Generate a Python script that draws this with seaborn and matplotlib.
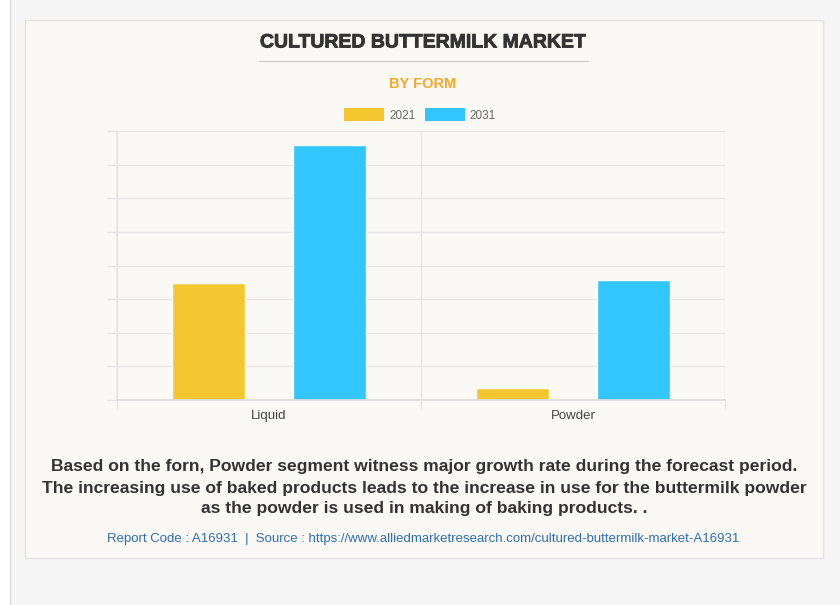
import seaborn as sns
import pandas as pd
import matplotlib.pyplot as plt
import matplotlib.patheffects as pe
from matplotlib.patches import Rectangle, Patch
from matplotlib.lines import Line2D

# values (arbitrary units, y axis has no labels)
forms = ["Liquid", "Powder"]
years = ["2021", "2031"]
val_2021 = [174, 18]
val_2031 = [379.5, 178.5]
colors = ["#F4C731", "#33C5FE"]

df = pd.DataFrame({
    "form": forms * 2,
    "year": [years[0]] * 2 + [years[1]] * 2,
    "value": val_2021 + val_2031,
})

sns.set_theme(style="white")
plt.rcParams["font.family"] = ["Liberation Sans", "DejaVu Sans"]

W, H = 840, 605
fig = plt.figure(figsize=(W / 100, H / 100), dpi=100)
fig.patch.set_facecolor("#f5f5f5")

def fx(px):
    return px / W

def fy(py):
    return 1 - py / H

# page strip on the left and the card
fig.add_artist(Rectangle((0, 0), fx(10), 1, transform=fig.transFigure,
                         facecolor="white", edgecolor="none", zorder=-2))
fig.add_artist(Line2D([fx(10), fx(10)], [0, 1], transform=fig.transFigure,
                      color="#dcdcdc", lw=1, zorder=-2))
fig.add_artist(Rectangle((fx(25), fy(558)), fx(798), 538 / H, transform=fig.transFigure,
                         facecolor="#faf9f5", edgecolor="#e4e4e4", lw=1, zorder=-1))

ax = fig.add_axes([fx(117), fy(400), fx(608), 269 / H])
ax.set_zorder(2)
ax.set_facecolor("none")
sns.barplot(data=df, x="form", y="value", hue="year", palette=colors,
            width=0.8, gap=0.40, ax=ax, legend=False, saturation=1)

ax.set_ylim(0, 400)
ax.set_yticks(range(0, 401, 50))
ax.set_yticklabels([])
ax.set_xlim(-0.5, 1.5)
ax.set_xticks([-0.5, 0.5, 1.5], minor=True)
ax.grid(axis="y", color="#e6e6e6", lw=1)
ax.grid(axis="x", which="minor", color="#e6e6e6", lw=1)
ax.set_axisbelow(True)
ax.tick_params(axis="y", length=7, color="#e6e6e6", width=1, left=True)
ax.tick_params(axis="x", which="major", length=0, labelsize=9.5, labelcolor="#444444", pad=7)
ax.tick_params(axis="x", which="minor", length=6, color="#e6e6e6", bottom=True)
ax.set_xlabel("")
ax.set_ylabel("")
for s in ["top", "right"]:
    ax.spines[s].set_visible(False)
ax.spines["left"].set_color("#e6e6e6")
ax.spines["bottom"].set_color("#dddddd")

handles = [Patch(facecolor=c, edgecolor="none", label=y) for c, y in zip(colors, years)]
fig.legend(handles=handles, loc="center", bbox_to_anchor=(fx(420), fy(115)), ncol=2,
           frameon=False, fontsize=8.5, handlelength=3.4, handleheight=1.3,
           handletextpad=0.4, columnspacing=0.8, labelcolor="#666666")

fig.text(fx(423), fy(43), "CULTURED BUTTERMILK MARKET", ha="center", va="center",
         fontsize=14, fontweight="bold", color="#333333",
         path_effects=[pe.withStroke(linewidth=0.6, foreground="#333333")])
fig.add_artist(Line2D([fx(259), fx(588)], [fy(61), fy(61)], transform=fig.transFigure,
                      color="#d0d0d0", lw=1))
fig.text(fx(423), fy(84), "BY FORM", ha="center", va="center",
         fontsize=10.5, fontweight="bold", color="#F7A826")

body = ("Based on the forn, Powder segment witness major growth rate during the forecast period.\n"
        "The increasing use of baked products leads to the increase in use for the buttermilk powder\n"
        "as the powder is used in making of baking products. .")
fig.text(fx(424), fy(488), body, ha="center", va="center", fontsize=12.6,
         fontweight="bold", color="#333333", linespacing=1.5)
fig.text(fx(423), fy(539),
         "Report Code : A16931  |  Source : https://www.alliedmarketresearch.com/cultured-buttermilk-market-A16931",
         ha="center", va="center", fontsize=9.5, color="#2F6DB5")

fig.savefig("out.png", dpi=100, facecolor=fig.get_facecolor())
